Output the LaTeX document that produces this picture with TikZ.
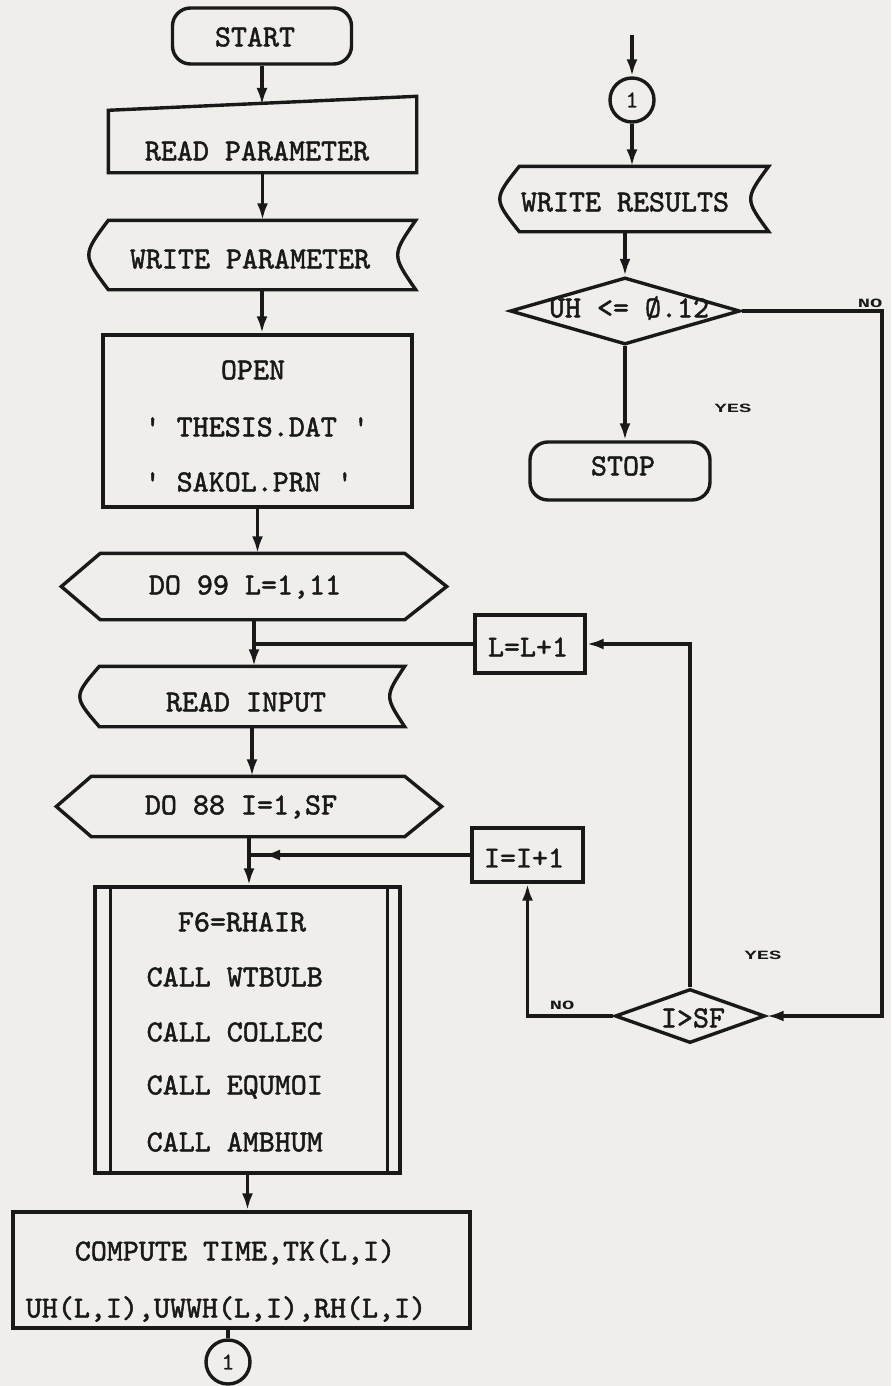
\documentclass[tikz,border=0pt]{standalone}
\usepackage{fontspec}
\newfontfamily\tw[FakeBold=1.6]{lmmono10-regular.otf}
\newfontfamily\lbl{Liberation Mono}
\usetikzlibrary{arrows.meta,shapes.geometric}
\definecolor{paper}{RGB}{239,238,234}
\definecolor{ink}{RGB}{25,25,25}
\begin{document}
\begin{tikzpicture}[x=1pt,y=-1pt,line width=3.4pt,draw=ink,
  every path/.style={line width=3.4pt},
  arr/.style={-{Latex[length=17pt,width=11pt]}},
  txt/.style={font=\fontsize{30.5}{34}\selectfont\tw,inner sep=0pt,text=ink},
  yn/.style={font=\fontsize{12}{14}\selectfont\lbl\bfseries,inner sep=0pt,text=ink},
  term/.style={draw,rectangle,rounded corners=18pt,inner sep=0pt},
  frame/.style={rectangle,inner sep=0pt},
  pbox/.style={draw,rectangle,inner sep=0pt},
  dia/.style={draw,diamond,inner sep=0pt},
  conn/.style={draw,circle,inner sep=0pt,minimum size=44pt,font=\fontsize{24}{28}\selectfont\tw,text=ink}]
\fill[paper] (0,0) rectangle (891,1386);
\useasboundingbox (0,0) rectangle (891,1386);

% ---------- left column ----------
\node[term,minimum width=179pt,minimum height=56pt] (start) at (262,36) {};
\node[txt] (startt) at (255,37) {START};

\node[frame,minimum width=305pt,minimum height=73pt] (rp) at (262.5,134.5) {};
\draw ([yshift=-14pt]rp.north west) -- (rp.north east) -- (rp.south east) -- (rp.south west) -- cycle;
\node[txt] (rpt) at (257,151) {READ PARAMETER};
\coordinate (rpin) at (262,105);

\node[frame,minimum width=304pt,minimum height=66pt] (wp) at (262,255) {};
\draw (wp.north west) -- (wp.north east) .. controls ([xshift=-24pt]wp.east) .. (wp.south east)
  -- (wp.south west) .. controls ([xshift=-26pt]wp.west) .. (wp.north west) -- cycle;
\node[txt] (wpt) at (250,259) {WRITE PARAMETER};

\node[pbox,minimum width=309pt,minimum height=172pt] (open) at (257.5,421) {};
\node[txt] (opt1) at (253,370) {OPEN};
\node[txt,anchor=west] (opt2) at (143,427) {' THESIS.DAT '};
\node[txt,anchor=west] (opt3) at (143,482) {' SAKOL.PRN '};

\node[frame,minimum width=382pt,minimum height=63pt] (do99) at (254,586.5) {};
\draw (do99.west) -- ([xshift=39pt]do99.north west) -- ([xshift=-42pt]do99.north east) -- (do99.east)
  -- ([xshift=-42pt]do99.south east) -- ([xshift=39pt]do99.south west) -- cycle;
\node[txt] (do99t) at (245,587) {DO 99 L=1,11};

\node[frame,minimum width=302pt,minimum height=57pt] (ri) at (252,696.5) {};
\draw (ri.north west) -- (ri.north east) .. controls ([xshift=-20pt]ri.east) .. (ri.south east)
  -- (ri.south west) .. controls ([xshift=-26pt]ri.west) .. (ri.north west) -- cycle;
\node[txt] (rit) at (246,702) {READ INPUT};

\node[frame,minimum width=382pt,minimum height=57pt] (do88) at (249,806.5) {};
\draw (do88.west) -- ([xshift=35pt]do88.north west) -- ([xshift=-37pt]do88.north east) -- (do88.east)
  -- ([xshift=-37pt]do88.south east) -- ([xshift=35pt]do88.south west) -- cycle;
\node[txt] (do88t) at (241,807) {DO 88 I=1,SF};

\node[pbox,minimum width=305pt,minimum height=286pt] (f6) at (247.5,1030) {};
\draw ([xshift=17pt]f6.north west) -- ([xshift=17pt]f6.south west);
\draw ([xshift=-14pt]f6.north east) -- ([xshift=-14pt]f6.south east);
\node[txt] (f6t) at (242,922) {F6=RHAIR};
\node[txt,anchor=west] (c1t) at (145,977) {CALL WTBULB};
\node[txt,anchor=west] (c2t) at (145,1032) {CALL COLLEC};
\node[txt,anchor=west] (c3t) at (145,1087) {CALL EQUMOI};
\node[txt,anchor=west] (c4t) at (145,1142) {CALL AMBHUM};

\node[pbox,minimum width=457pt,minimum height=116pt] (comp) at (241.5,1270) {};
\node[txt] (compt1) at (235,1252) {COMPUTE TIME,TK(L,I)};
\node[txt] (compt2) at (226,1309) {UH(L,I),UWWH(L,I),RH(L,I)};

\node[conn] (cb) at (228,1362) {1};

% ---------- right column ----------
\coordinate (top) at (632,35);
\node[conn] (ct) at (632,100) {1};

\node[frame,minimum width=246pt,minimum height=62pt] (wr) at (644,199) {};
\draw (wr.north west) -- (wr.north east) .. controls ([xshift=-24pt]wr.east) .. (wr.south east)
  -- (wr.south west) .. controls ([xshift=-26pt]wr.west) .. (wr.north west) -- cycle;
\node[txt] (wrt) at (625,202) {WRITE RESULTS};

\node[dia,minimum width=230pt,minimum height=67pt] (d1) at (625,311) {};
\node[txt] (d1t) at (629,308) {UH <= Ø.12};

\node[term,minimum width=180pt,minimum height=58pt] (stop) at (620,471) {};
\node[txt] (stopt) at (623,466) {STOP};

\node[pbox,minimum width=110pt,minimum height=58pt] (ll) at (530,644) {};
\node[txt] (llt) at (528,647) {L=L+1};

\node[pbox,minimum width=111pt,minimum height=54pt] (ii) at (527.5,855) {};
\node[txt] (iit) at (524,858) {I=I+1};

\node[dia,minimum width=150pt,minimum height=54pt] (d2) at (690,1016) {};
\node[txt] (d2t) at (693,1018) {I>SF};

\coordinate (r1) at (882,311);
\coordinate (r2) at (882,1016);

% labels
\node[yn] (no1) at (870,303) {\scalebox{1.7}[1.05]{NO}};
\node[yn] (yes1) at (733,408) {\scalebox{1.7}[1.05]{YES}};
\node[yn] (yes2) at (763,955) {\scalebox{1.7}[1.05]{YES}};
\node[yn] (no2) at (562,1005) {\scalebox{1.7}[1.05]{NO}};

% ---------- connectors ----------
\draw[arr] (start.south) -- (rpin);
\draw[arr] (rp.south) -- (rp.south |- wp.north);
\draw[arr] (wp.south) -- (wp.south |- open.north);
\draw[arr] (open.south) -- (open.south |- do99.north);
\draw[arr] (do99.south) -- (do99.south |- ri.north);
\draw[arr] (ri.south) -- (ri.south |- do88.north);
\draw[arr] (do88.south) -- (do88.south |- f6.north);
\draw[arr] (f6.south) -- (f6.south |- comp.north);
\draw (cb.north |- comp.south) -- (cb.north);

\coordinate (j1) at (ll.west -| do99.south);
\draw (ll.west) -- (j1);
\coordinate (j2) at (ii.west -| do88.south);
\draw (ii.west) -- (j2);
\draw[arr] (ii.west) -- ([xshift=14pt]j2);

\draw[arr] (top) -- (ct.north);
\draw[arr] (ct.south) -- (ct.south |- wr.north);
\draw[arr] (d1.north |- wr.south) -- (d1.north);
\draw[arr] (d1.south) -- (d1.south |- stop.north);
\draw[arr] (d1.east) -- (r1) -- (r2) -- (d2.east);
\draw[arr] (d2.north) -- (d2.north |- ll.east) -- (ll.east);
\draw[arr] (d2.west) -| (ii.south);
\end{tikzpicture}
\end{document}
